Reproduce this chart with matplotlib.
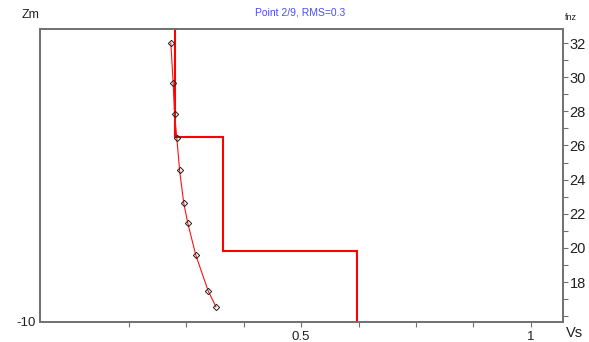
import matplotlib.pyplot as plt
import numpy as np

plt.rcParams['font.family'] = ['Liberation Sans', 'DejaVu Sans']

# layered model (step profile): Vs vs fnz
step_vs = [0.226, 0.226, 0.330, 0.330, 0.622, 0.622]
step_fnz = [32.82, 26.5, 26.5, 19.8, 19.8, 15.66]

# measured / fitted curve points
curve_vs = [0.217, 0.222, 0.225, 0.230, 0.236, 0.245, 0.254, 0.271, 0.298, 0.315]
curve_fnz = [32.0, 29.67, 27.84, 26.43, 24.56, 22.63, 21.43, 19.6, 17.49, 16.55]

x_ticks = [0.125 * k for k in range(1, 9)]
x_labels = ["", "", "", "0.5", "", "", "", "1"]
fnz_ticks = list(range(16, 33))
fnz_labels = [str(v) if v % 2 == 0 and v >= 18 else "" for v in fnz_ticks]

spine_col = "#707070"
text_col = "#202020"

fig = plt.figure(figsize=(5.89, 3.42), dpi=100)
ax = fig.add_axes([0.0679, 0.0585, 0.8875, 0.8567])
ax2 = ax.twinx()

# left axis (Zm)
ax.set_xlim(-0.0675, 1.069)
ax.set_ylim(-10, 0)
ax.set_yticks([-10])
ax.set_yticklabels(["-10"])
ax.tick_params(axis="y", length=0, pad=3, labelsize=9.5, colors=text_col)
ax.set_xticks(x_ticks)
ax.set_xticklabels(x_labels)
ax.tick_params(axis="x", direction="out", length=3.5, width=0.8, color=spine_col,
               labelsize=9.5, labelcolor=text_col, pad=3)

# right axis (fnz)
ax2.set_ylim(15.66, 32.82)
ax2.set_yticks(fnz_ticks)
ax2.set_yticklabels(fnz_labels)
ax2.tick_params(axis="y", direction="out", length=3.5, width=0.8, color=spine_col,
                labelsize=10.5, labelcolor=text_col, pad=1.5)

for a in (ax, ax2):
    for s in a.spines.values():
        s.set_color(spine_col)
        s.set_linewidth(1.2)

ax2.plot(step_vs, step_fnz, color="#ff0000", lw=1.5, solid_joinstyle="miter")
ax2.plot(curve_vs, curve_fnz, color="#ff1010", lw=0.8, marker="D", ms=3.2,
         mfc="none", mec="#202020", mew=0.7)

fig.text(0.51, 0.963, "Point 2/9, RMS=0.3", color="#4a4aff", fontsize=7.5,
         ha="center", va="center")
fig.text(0.052, 0.955, "Zm", color=text_col, fontsize=9, ha="center", va="center")
fig.text(0.97, 0.948, "fnz", color=text_col, fontsize=6.5, ha="center", va="center")
fig.text(0.975, 0.027, "Vs", color=text_col, fontsize=10.5, ha="center", va="center")

fig.savefig("out.png", dpi=100)
